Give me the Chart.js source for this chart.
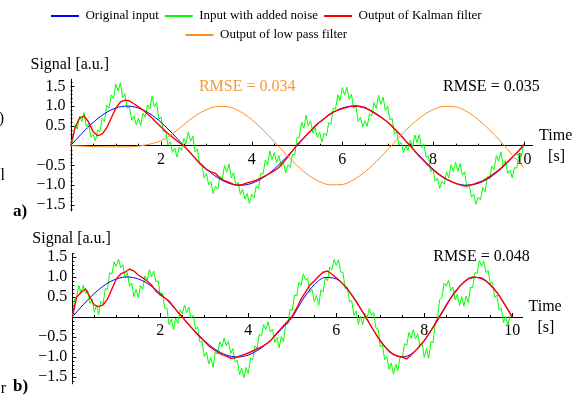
<!DOCTYPE html>
<html>
<head>
<meta charset="utf-8">
<script src="https://cdn.jsdelivr.net/npm/chart.js@4.4.0/dist/chart.umd.min.js"></script>
<style>
  body { margin: 0; background: #fff; }
  #wrap { position: relative; width: 585px; height: 402px; }
  canvas { position: absolute; left: 0; }
</style>
</head>
<body>
<div id="wrap">
  <canvas id="chartA" width="585" height="226" style="top:0"></canvas>
  <canvas id="chartB" width="585" height="176" style="top:226px"></canvas>
</div>
<script>
const seriesNames = ['Original input', 'Input with added noise', 'Output of Kalman filter', 'Output of low pass filter'];
const xTickLabels = [2, 4, 6, 8, 10];
const yTickLabels = [-1.5, -1.0, -0.5, 0.5, 1.0, 1.5];
const rmseLowPassA = 'RMSE = 0.034';
const rmseKalmanA = 'RMSE = 0.035';
const rmseKalmanB = 'RMSE = 0.048';

// sample times: smooth curves every 0.25 s, filter output every 0.1 s, noisy input every 0.05 s
const tCoarse = Array.from({length: 41}, (_, i) => i * 0.25);
const tMid = Array.from({length: 101}, (_, i) => i * 0.1);
const tFine = Array.from({length: 201}, (_, i) => i * 0.05);

// panel a)
const originalA = [0, 0.309, 0.588, 0.809, 0.951, 1, 0.951, 0.809, 0.588, 0.309,
  0, -0.309, -0.588, -0.809, -0.951, -1, -0.951, -0.809, -0.588, -0.309,
  0, 0.309, 0.588, 0.809, 0.951, 1, 0.951, 0.809, 0.588, 0.309,
  0, -0.309, -0.588, -0.809, -0.951, -1, -0.951, -0.809, -0.588, -0.309, 0];
const lowPassA = [0, -0.01, -0.02, -0.03, -0.03, -0.03, -0.01, 0.04, 0.13, 0.3,
  0.53, 0.75, 0.91, 0.99, 0.98, 0.86, 0.66, 0.4, 0.1, -0.21,
  -0.5, -0.74, -0.91, -0.99, -0.98, -0.86, -0.66, -0.4, -0.1, 0.21,
  0.5, 0.74, 0.91, 0.99, 0.98, 0.86, 0.66, 0.4, 0.1, -0.23, -0.55];
const noisyA = [0, 0.12, 0.53, 0.42, 0.75, 0.61, 0.84, 0.47, 0.57, 0.22,
  0.28, 0.12, 0.4, 0.35, 0.69, 0.61, 1.02, 0.95, 1.28, 1.19,
  1.55, 1.38, 1.59, 1.21, 1.32, 0.95, 0.98, 0.65, 0.75, 0.53,
  0.69, 0.51, 0.82, 0.72, 1.03, 0.92, 1.25, 0.98, 1.09, 0.67,
  0.72, 0.35, 0.38, 0.02, 0.1, -0.17, -0.06, -0.29, -0.03, -0.12,
  0.18, 0.05, 0.35, 0.11, 0.24, -0.16, -0.08, -0.48, -0.47, -0.81,
  -0.7, -0.99, -0.91, -1.21, -1.03, -1.1, -0.77, -0.85, -0.5, -0.67,
  -0.46, -0.81, -0.68, -1.0, -0.92, -1.23, -1.1, -1.35, -1.21, -1.46,
  -1.23, -1.32, -1.02, -1.08, -0.7, -0.72, -0.36, -0.49, -0.13, -0.35,
  -0.17, -0.43, -0.25, -0.52, -0.41, -0.69, -0.48, -0.55, -0.22, -0.23,
  0.2, 0.21, 0.59, 0.44, 0.77, 0.5, 0.63, 0.32, 0.45, 0.21,
  0.34, 0.09, 0.32, 0.25, 0.58, 0.55, 0.95, 0.93, 1.29, 1.14,
  1.47, 1.28, 1.48, 1.17, 1.3, 0.95, 0.99, 0.61, 0.72, 0.48,
  0.63, 0.49, 0.8, 0.75, 1.09, 0.94, 1.27, 1.05, 1.23, 0.89,
  1.0, 0.65, 0.69, 0.29, 0.37, 0.02, 0.08, -0.18, 0.0, -0.12,
  0.14, -0.03, 0.27, 0.08, 0.28, -0.05, 0.05, -0.29, -0.26, -0.66,
  -0.58, -0.9, -0.82, -1.08, -0.9, -0.97, -0.66, -0.81, -0.48, -0.65,
  -0.42, -0.65, -0.45, -0.75, -0.66, -1.06, -0.98, -1.3, -1.22, -1.48,
  -1.3, -1.37, -1.06, -1.16, -0.78, -0.85, -0.52, -0.61, -0.25, -0.39,
  -0.16, -0.51, -0.38, -0.7, -0.62, -0.81, -0.55, -0.57, -0.21, -0.29, 0.05];
const kalmanA = [0, 0.45, 0.7, 0.75, 0.6, 0.35, 0.25, 0.3, 0.45, 0.7,
  0.95, 1.1, 1.15, 1.13, 1.06, 0.98, 0.9, 0.8, 0.7, 0.58,
  0.47, 0.36, 0.26, 0.17, 0.08, 0.0, -0.12, -0.25, -0.38, -0.5,
  -0.6, -0.66, -0.7, -0.82, -0.88, -0.93, -0.98, -1.0, -0.98, -0.94,
  -0.91, -0.87, -0.82, -0.76, -0.7, -0.63, -0.55, -0.42, -0.28, -0.13,
  0.02, 0.14, 0.26, 0.37, 0.5, 0.6, 0.68, 0.78, 0.85, 0.9,
  0.94, 0.97, 1.0, 1.01, 0.99, 0.97, 0.9, 0.83, 0.76, 0.68,
  0.6, 0.49, 0.37, 0.25, 0.12, 0.0, -0.14, -0.27, -0.38, -0.5,
  -0.6, -0.7, -0.78, -0.85, -0.9, -0.95, -0.99, -1.02, -1.0, -0.97,
  -0.93, -0.89, -0.82, -0.74, -0.66, -0.57, -0.46, -0.35, -0.24, -0.12, 0.02];

// panel b)
const originalB = [0, 0.309, 0.588, 0.809, 0.951, 1, 0.951, 0.809, 0.588, 0.309,
  0, -0.309, -0.588, -0.809, -0.951, -1, -0.951, -0.809, -0.588, -0.309,
  0, 0.454, 0.809, 0.988, 0.951, 0.707, 0.309, -0.156, -0.588, -0.891,
  -1, -0.891, -0.588, -0.156, 0.309, 0.707, 0.951, 0.988, 0.809, 0.454, 0];
const noisyB = [0, 0.43, 0.52, 0.78, 0.61, 0.79, 0.58, 0.67, 0.34, 0.45,
  0.12, 0.3, 0.06, 0.39, 0.33, 0.71, 0.69, 1.11, 1.07, 1.38,
  1.26, 1.45, 1.23, 1.31, 0.99, 1.11, 0.77, 0.85, 0.51, 0.69,
  0.48, 0.79, 0.69, 1.03, 0.92, 1.18, 1.01, 1.15, 0.88, 0.91,
  0.54, 0.61, 0.22, 0.22, -0.19, -0.05, -0.32, -0.03, -0.16, 0.18,
  0.07, 0.3, 0.11, 0.25, -0.02, 0.04, -0.31, -0.25, -0.63, -0.6,
  -0.99, -0.88, -1.17, -1.01, -1.26, -0.87, -0.93, -0.62, -0.74, -0.53,
  -0.72, -0.61, -0.91, -0.79, -1.13, -1.08, -1.44, -1.28, -1.52, -1.26,
  -1.41, -1.02, -1.08, -0.72, -0.79, -0.43, -0.47, -0.19, -0.31, -0.12,
  -0.38, -0.3, -0.64, -0.51, -0.77, -0.49, -0.61, -0.17, -0.18, 0.2,
  0.16, 0.55, 0.53, 0.87, 0.79, 1.08, 0.92, 0.98, 0.61, 0.69,
  0.38, 0.54, 0.29, 0.68, 0.62, 0.98, 0.91, 1.25, 1.18, 1.44,
  1.29, 1.43, 1.12, 1.12, 0.71, 0.75, 0.38, 0.41, 0.04, 0.15,
  -0.18, 0.02, -0.19, 0.09, -0.02, 0.21, 0.04, 0.11, -0.28, -0.3,
  -0.74, -0.71, -1.07, -0.99, -1.31, -1.15, -1.43, -1.18, -1.34, -0.98,
  -1.02, -0.66, -0.71, -0.39, -0.53, -0.32, -0.54, -0.43, -0.72, -0.66,
  -1.01, -0.79, -1.03, -0.62, -0.64, -0.13, -0.02, 0.44, 0.49, 0.85,
  0.77, 0.92, 0.66, 0.75, 0.43, 0.57, 0.29, 0.51, 0.27, 0.52,
  0.36, 0.75, 0.73, 1.11, 1.09, 1.41, 1.27, 1.4, 1.11, 1.17,
  0.83, 0.87, 0.49, 0.55, 0.17, 0.22, -0.14, 0.02, -0.22, 0.04, 0];
const kalmanB = [0, 0.5, 0.62, 0.7, 0.5, 0.3, 0.26, 0.3, 0.45, 0.7,
  0.95, 1.08, 1.12, 1.2, 1.15, 1.05, 0.98, 0.9, 0.8, 0.65,
  0.55, 0.48, 0.4, 0.26, 0.12, 0.0, -0.13, -0.26, -0.38, -0.5,
  -0.6, -0.72, -0.8, -0.88, -0.94, -0.98, -1.03, -1.02, -0.98, -0.94,
  -0.9, -0.85, -0.8, -0.75, -0.68, -0.6, -0.47, -0.34, -0.22, -0.1,
  0.02, 0.22, 0.45, 0.62, 0.8, 0.9, 1.02, 1.12, 1.15, 1.07,
  0.98, 0.88, 0.77, 0.63, 0.47, 0.3, 0.12, -0.06, -0.25, -0.43,
  -0.6, -0.74, -0.86, -0.94, -0.98, -1.0, -1.05, -0.95, -0.84, -0.72,
  -0.59, -0.43, -0.26, -0.08, 0.1, 0.29, 0.47, 0.62, 0.76, 0.87,
  0.96, 1.0, 0.99, 0.96, 0.9, 0.8, 0.68, 0.54, 0.36, 0.18, 0.0];

const serif = '"Liberation Serif", "Times New Roman", serif';
Chart.defaults.font.family = serif;
Chart.defaults.color = '#000';

function xy(ts, vs) {
  return vs.map((v, i) => ({x: ts[i], y: v}));
}

// Mathematica-like axes: y axis segment, ticks pointing inward, axis captions and notes
const axisDeco = {
  id: 'axisDeco',
  beforeDatasetsDraw(chart, args, o) {
    const {ctx, scales: {x, y}} = chart;
    const x0 = x.getPixelForValue(0);
    const y0 = y.getPixelForValue(0);
    ctx.save();
    ctx.strokeStyle = '#000';
    ctx.lineWidth = 1;
    ctx.beginPath();
    ctx.moveTo(Math.round(x0) + 0.5, y.getPixelForValue(o.yLo));
    ctx.lineTo(Math.round(x0) + 0.5, y.getPixelForValue(o.yHi));
    ctx.stroke();
    for (let k = Math.ceil(o.yLo * 10); k <= Math.floor(o.yHi * 10); k++) {
      if (k === 0) continue;
      const py = Math.round(y.getPixelForValue(k / 10)) + 0.5;
      const len = k % 5 === 0 ? 4 : 2;
      ctx.beginPath();
      ctx.moveTo(x0, py);
      ctx.lineTo(x0 + len, py);
      ctx.stroke();
    }
    for (let k = 1; k <= 20; k++) {
      const px = Math.round(x.getPixelForValue(k / 2)) + 0.5;
      const len = k % 4 === 0 ? 4 : 2;
      ctx.beginPath();
      ctx.moveTo(px, y0);
      ctx.lineTo(px, y0 - len);
      ctx.stroke();
    }
    ctx.restore();
  },
  afterDraw(chart, args, o) {
    const {ctx, scales: {x, y}} = chart;
    const x0 = x.getPixelForValue(0);
    const y0 = y.getPixelForValue(0);
    const xEnd = x.getPixelForValue(x.max);
    ctx.save();
    ctx.textBaseline = 'middle';
    ctx.fillStyle = '#000';
    ctx.font = '16px ' + serif;
    ctx.textAlign = 'left';
    ctx.fillText('Signal [a.u.]', x0 - 40, y.getPixelForValue(o.yHi) - 14.5);
    ctx.fillText('Time', xEnd + 6.5, y0 - 10);
    ctx.fillText('[s]', xEnd + 15.5, y0 + 11);
    ctx.textAlign = 'center';
    o.notes.forEach(n => {
      ctx.fillStyle = n.color;
      ctx.fillText(n.text, x.getPixelForValue(n.x), y.getPixelForValue(n.y));
    });
    ctx.fillStyle = '#000';
    ctx.textAlign = 'left';
    ctx.font = 'bold 17px ' + serif;
    ctx.fillText(o.letter[0], o.letter[1], o.letter[2]);
    ctx.font = '16px ' + serif;
    ctx.textAlign = 'right';
    o.scraps.forEach(s => ctx.fillText(s[0], s[1], s[2]));
    ctx.restore();
  }
};

function makePanel(id, o) {
  const datasets = [
    {label: seriesNames[0], data: xy(tCoarse, o.original), borderColor: '#0000ff', borderWidth: 1,
     cubicInterpolationMode: 'monotone', order: 2},
    {label: seriesNames[1], data: xy(tFine, o.noisy), borderColor: '#00ff00', borderWidth: 1, order: 4},
    {label: seriesNames[2], data: xy(tMid, o.kalman), borderColor: '#ff0000', borderWidth: 1.4, order: 1}
  ];
  if (o.lowPass) {
    datasets.push({label: seriesNames[3], data: xy(tCoarse, o.lowPass), borderColor: '#ff8c1a', borderWidth: 1,
      cubicInterpolationMode: 'monotone', order: 0});
  }
  return new Chart(document.getElementById(id), {
    type: 'line',
    data: {datasets},
    plugins: [axisDeco],
    options: {
      responsive: false,
      animation: false,
      events: [],
      layout: {padding: {left: 0, right: o.padRight, top: o.padTop, bottom: o.padBottom}},
      elements: {point: {radius: 0}, line: {tension: 0}},
      plugins: {
        legend: {
          display: o.legend,
          labels: {
            font: {size: 13},
            color: '#000',
            usePointStyle: true,
            pointStyle: 'line',
            pointStyleWidth: 28,
            padding: 6,
            sort: (a, b) => a.datasetIndex - b.datasetIndex,
            generateLabels: chart => Chart.defaults.plugins.legend.labels.generateLabels(chart)
              .map(l => Object.assign(l, {lineWidth: 2}))
          }
        },
        tooltip: {enabled: false},
        axisDeco: {yLo: o.yLo, yHi: o.yHi, notes: o.notes, letter: o.letter, scraps: o.scraps}
      },
      scales: {
        x: {
          type: 'linear', min: 0, max: o.xMax, position: {y: 0},
          grid: {display: false, drawTicks: false},
          border: {color: '#000', width: 1},
          afterBuildTicks: s => { s.ticks = xTickLabels.map(v => ({value: v})); },
          ticks: {font: {size: 16}, color: '#000', padding: 4, maxRotation: 0, autoSkip: false,
                  callback: v => String(v)}
        },
        y: {
          type: 'linear', min: o.yMin, max: o.yMax, position: 'left',
          afterFit: s => { s.width = o.yAxisX; },
          grid: {display: false, drawTicks: false},
          border: {display: false},
          afterBuildTicks: s => { s.ticks = yTickLabels.map(v => ({value: v})); },
          ticks: {font: {size: 16}, color: '#000', padding: 5, autoSkip: false,
                  callback: v => (v < 0 ? '\u2212' : '') + Math.abs(v).toFixed(1)}
        }
      }
    }
  });
}

makePanel('chartA', {
  original: originalA, noisy: noisyA, kalman: kalmanA, lowPass: lowPassA, legend: true,
  padRight: 52.4, padTop: 3.5, padBottom: 13, yAxisX: 70.5,
  xMax: 10.2, yMin: -1.66, yMax: 2.38, yLo: -1.66, yHi: 1.69,
  notes: [{text: rmseLowPassA, color: '#f59a36', x: 3.9, y: 1.49},
          {text: rmseKalmanA, color: '#000', x: 9.29, y: 1.49}],
  letter: ['a)', 13, 212],
  scraps: [['0)', 4, 119], ['l', 5, 176]]
});

makePanel('chartB', {
  original: originalB, noisy: noisyB, kalman: kalmanB, lowPass: null, legend: false,
  padRight: 63, padTop: 27, padBottom: 17.8, yAxisX: 72.3,
  xMax: 10.22, yMin: -1.68, yMax: 1.6, yLo: -1.68, yHi: 1.6,
  notes: [{text: rmseKalmanB, color: '#000', x: 9.3, y: 1.5}],
  letter: ['b)', 13, 161],
  scraps: [['r', 6, 163]]
});
</script>
</body>
</html>
